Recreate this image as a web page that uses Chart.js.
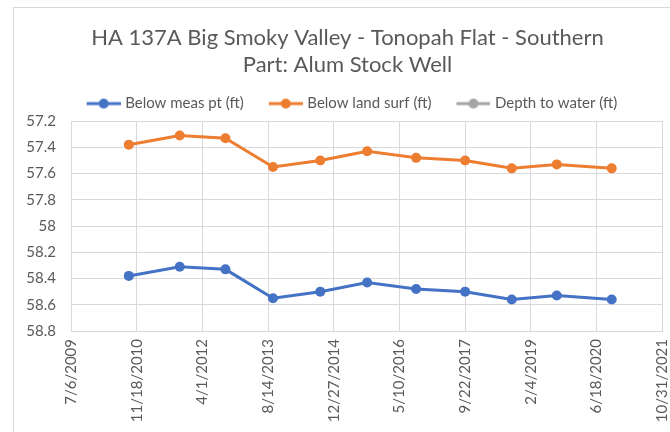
<!DOCTYPE html>
<html lang="en">
<head>
    <meta charset="utf-8"/>
    <title>HA 137A Big Smoky Valley - Alum Stock Well</title>
    <script src="https://cdn.jsdelivr.net/npm/chart.js@4.4.0/dist/chart.umd.min.js"></script>
    <style>
        * {
          padding: 0;
          margin: 0;
          box-sizing: border-box;
        }

        body {
            background: #FFFFFF;
            width: 670px;
            height: 432px;
            overflow: hidden;
            position: relative;
        }

        .frame {
            position: absolute;
            left: 13px;
            top: 7px;
            width: 700px;
            height: 460px;
            border: 1px solid #D9D9D9;
        }

        .chart-box {
            position: absolute;
            left: 0;
            top: 0;
            width: 670px;
            height: 432px;
        }
    </style>
</head>
<body>
    <div class="frame"></div>
    <div class="chart-box">
        <canvas id="well-chart"></canvas>
    </div>
    <script>
        const dates = ["9/19/2010", "10/12/2011", "9/24/2012", "9/21/2013", "9/16/2014", "9/8/2015",
                       "9/15/2016", "9/23/2017", "9/13/2018", "8/22/2019", "10/13/2020"];
        const belowMeasPt = [58.38, 58.31, 58.33, 58.55, 58.50, 58.43, 58.48, 58.50, 58.56, 58.53, 58.56];
        const belowLandSurf = [57.38, 57.31, 57.33, 57.55, 57.50, 57.43, 57.48, 57.50, 57.56, 57.53, 57.56];
        const depthToWater = [];

        const xTickLabels = ["7/6/2009", "11/18/2010", "4/1/2012", "8/14/2013", "12/27/2014", "5/10/2016",
                             "9/22/2017", "2/4/2019", "6/18/2020", "10/31/2021"];
        const yTicks = [57.2, 57.4, 57.6, 57.8, 58, 58.2, 58.4, 58.6, 58.8];

        const textColor = "#595959";
        const gridColor = "#D9D9D9";
        const fontFamily = "Lato, 'Open Sans', sans-serif";

        function toMs(s) {
            const p = s.split("/");
            return Date.UTC(+p[2], +p[0] - 1, +p[1]);
        }

        function points(values) {
            return values.map((v, i) => ({ x: toMs(dates[i]), y: v }));
        }

        // line + dot picture for the legend, Excel style.
        // the picture is wider than the legend box, with blank room on the left
        const iconBox = 40;
        function legendIcon(color) {
            const c = document.createElement("canvas");
            c.width = iconBox + 6;
            c.height = 12;
            const g = c.getContext("2d");
            const x0 = iconBox - 28;
            g.strokeStyle = color;
            g.lineWidth = 3;
            g.beginPath();
            g.moveTo(x0, 6);
            g.lineTo(x0 + 34, 6);
            g.stroke();
            g.fillStyle = color;
            g.beginPath();
            g.arc(x0 + 17, 6, 5, 0, Math.PI * 2);
            g.fill();
            return c;
        }

        const colors = ["#4472C4", "#ED7D31", "#A5A5A5"];
        const icons = colors.map(legendIcon);

        function series(label, values, color) {
            return {
                label: label,
                data: points(values),
                borderColor: color,
                backgroundColor: color,
                borderWidth: 3,
                pointRadius: 5,
                pointHoverRadius: 5,
                pointBorderWidth: 0,
                tension: 0
            };
        }

        const context = document.getElementById("well-chart").getContext("2d");
        new Chart(context, {
            type: "line",
            data: {
                datasets: [
                    series("Below meas pt (ft)", belowMeasPt, colors[0]),
                    series("Below land surf (ft)", belowLandSurf, colors[1]),
                    series("Depth to water (ft)", depthToWater, colors[2])
                ]
            },
            options: {
                responsive: true,
                maintainAspectRatio: false,
                animation: false,
                layout: {
                    // the Excel frame runs past the right edge, so title and legend centre on it
                    padding: { left: 14, right: -11, top: 0, bottom: 0 }
                },
                scales: {
                    x: {
                        type: "linear",
                        min: toMs(xTickLabels[0]),
                        max: toMs(xTickLabels[xTickLabels.length - 1]),
                        afterBuildTicks: (axis) => {
                            axis.ticks = xTickLabels.map(s => ({ value: toMs(s) }));
                        },
                        afterFit: (axis) => {
                            axis.height = 101;
                            axis.paddingLeft = 0;
                            axis.paddingRight = 8;
                        },
                        grid: {
                            color: gridColor,
                            drawTicks: false
                        },
                        border: { color: gridColor },
                        ticks: {
                            color: textColor,
                            font: { family: fontFamily, size: 15 },
                            minRotation: 90,
                            maxRotation: 90,
                            padding: 8,
                            autoSkip: false,
                            callback: (value, index) => xTickLabels[index]
                        }
                    },
                    y: {
                        reverse: true,
                        min: yTicks[0],
                        max: yTicks[yTicks.length - 1],
                        afterBuildTicks: (axis) => {
                            axis.ticks = yTicks.map(v => ({ value: v }));
                        },
                        afterFit: (axis) => {
                            axis.width = 57;
                            axis.paddingTop = 0;
                            axis.paddingBottom = 0;
                        },
                        grid: {
                            color: gridColor,
                            drawTicks: false
                        },
                        border: { color: gridColor },
                        ticks: {
                            color: textColor,
                            font: { family: fontFamily, size: 15 },
                            padding: 15,
                            callback: (value) => String(value)
                        }
                    }
                },
                plugins: {
                    title: {
                        display: true,
                        text: ["HA 137A Big Smoky Valley - Tonopah Flat - Southern", "Part: Alum Stock Well"],
                        color: textColor,
                        font: { family: fontFamily, size: 22, weight: "normal", lineHeight: 1.23 },
                        padding: { top: 24, bottom: 2 }
                    },
                    legend: {
                        position: "top",
                        labels: {
                            color: textColor,
                            font: { family: fontFamily, size: 15 },
                            usePointStyle: true,
                            pointStyleWidth: iconBox,
                            padding: 16,
                            generateLabels: (chart) => {
                                const items = Chart.defaults.plugins.legend.labels.generateLabels(chart);
                                items.forEach((item, i) => { item.pointStyle = icons[i]; });
                                return items;
                            }
                        }
                    },
                    tooltip: { enabled: false }
                }
            }
        });
    </script>
</body>
</html>
